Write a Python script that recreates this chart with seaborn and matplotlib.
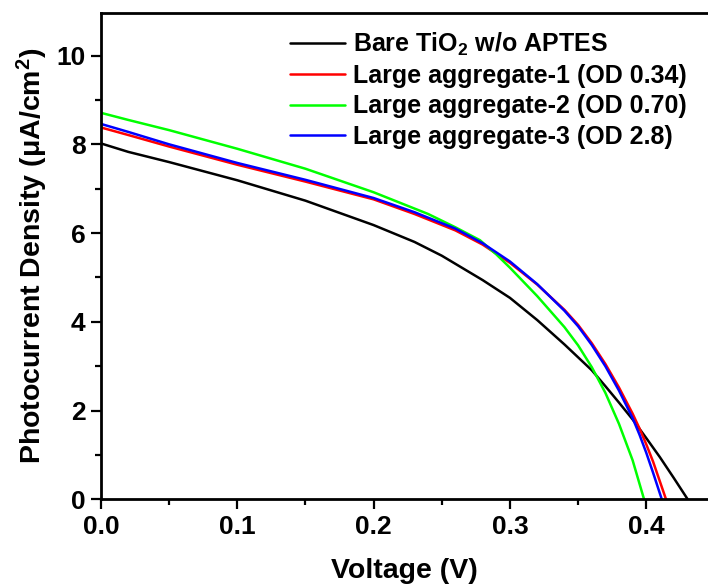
import numpy as np
import pandas as pd
import matplotlib
matplotlib.use("Agg")
import matplotlib.pyplot as plt
import seaborn as sns
from matplotlib.ticker import MultipleLocator, FormatStrFormatter

sns.set_style("ticks")
plt.rcParams['font.family'] = ['Liberation Sans', 'DejaVu Sans']
plt.rcParams['font.weight'] = 'bold'
plt.rcParams['mathtext.fontset'] = 'custom'
plt.rcParams['mathtext.rm'] = 'Liberation Sans:bold'
plt.rcParams['mathtext.it'] = 'Liberation Sans:bold'
plt.rcParams['mathtext.bf'] = 'Liberation Sans:bold'
for k in ['text.color', 'axes.labelcolor', 'xtick.color', 'ytick.color', 'axes.edgecolor']:
    plt.rcParams[k] = 'black'

# ---- data ----
labels = [r"Bare TiO$_2$ w/o APTES",
          "Large aggregate-1 (OD 0.34)",
          "Large aggregate-2 (OD 0.70)",
          "Large aggregate-3 (OD 2.8)"]
colors = ["#000000", "#ff0000", "#00ff00", "#0000ff"]

v_bare = [0.0, 0.02, 0.05, 0.10, 0.15, 0.20, 0.23, 0.25, 0.28, 0.30, 0.32, 0.34, 0.36, 0.37,
          0.38, 0.39, 0.40, 0.41, 0.42, 0.4304]
j_bare = [8.02, 7.83, 7.60, 7.19, 6.73, 6.18, 5.80, 5.49, 4.94, 4.54, 4.04, 3.49, 2.91, 2.55,
          2.18, 1.80, 1.38, 0.95, 0.49, 0.0]

v_agg1 = [0.0, 0.02, 0.05, 0.10, 0.15, 0.20, 0.23, 0.26, 0.28, 0.30, 0.32, 0.34, 0.35,
          0.36, 0.37, 0.38, 0.39, 0.395, 0.40, 0.405, 0.4145]
j_agg1 = [8.38, 8.21, 7.95, 7.54, 7.16, 6.76, 6.43, 6.06, 5.74, 5.33, 4.84, 4.27, 3.93,
          3.52, 3.05, 2.52, 1.93, 1.60, 1.24, 0.85, 0.0]

v_agg2 = [0.0, 0.02, 0.05, 0.10, 0.15, 0.20, 0.24, 0.26, 0.278, 0.29, 0.30, 0.32, 0.34,
          0.35, 0.36, 0.37, 0.38, 0.39, 0.3984]
j_agg2 = [8.71, 8.55, 8.32, 7.90, 7.45, 6.92, 6.43, 6.13, 5.84, 5.52, 5.22, 4.58, 3.88,
          3.47, 2.98, 2.40, 1.70, 0.88, 0.0]

v_agg3 = [0.0, 0.02, 0.05, 0.10, 0.15, 0.20, 0.23, 0.26, 0.28, 0.30, 0.32, 0.34, 0.35,
          0.36, 0.37, 0.38, 0.39, 0.395, 0.40, 0.405, 0.4114]
j_agg3 = [8.46, 8.28, 8.00, 7.58, 7.20, 6.79, 6.47, 6.10, 5.77, 5.36, 4.85, 4.25, 3.90,
          3.48, 3.00, 2.45, 1.83, 1.46, 1.05, 0.60, 0.0]

series = [(v_bare, j_bare), (v_agg1, j_agg1), (v_agg2, j_agg2), (v_agg3, j_agg3)]

fig = plt.figure(figsize=(7.08, 5.87), dpi=100)
ax = fig.add_axes([101/708, 1-499.3/587, 1-101/708, (499.3-13)/587])

for (v, j), lab, col in zip(series, labels, colors):
    df = pd.DataFrame({"V": v, "J": j})
    sns.lineplot(data=df, x="V", y="J", ax=ax, color=col, label=lab,
                 linewidth=1.8, estimator=None, sort=False)

ax.set_xlim(0, 0.4453)
ax.set_ylim(0, 10.96)
ax.xaxis.set_major_locator(MultipleLocator(0.1))
ax.xaxis.set_minor_locator(MultipleLocator(0.05))
ax.yaxis.set_major_locator(MultipleLocator(2))
ax.yaxis.set_minor_locator(MultipleLocator(1))
ax.xaxis.set_major_formatter(FormatStrFormatter('%.1f'))
ax.yaxis.set_major_formatter(FormatStrFormatter('%d'))

ax.tick_params(which='major', direction='out', length=7, width=1.6, labelsize=19,
               top=False, right=False, pad=4)
ax.tick_params(which='minor', direction='out', length=4, width=1.6, top=False, right=False)
for s in ['left', 'bottom', 'top']:
    ax.spines[s].set_linewidth(2.0)
    ax.spines[s].set_visible(True)
ax.spines['right'].set_visible(False)
for lbl in ax.get_xticklabels() + ax.get_yticklabels():
    lbl.set_fontweight('bold')

ax.set_xlabel("Voltage (V)", fontsize=20.5, fontweight='bold', labelpad=14)
ax.set_ylabel("Photocurrent Density (μA/cm$^2$)", fontsize=20.5, fontweight='bold', labelpad=5)

leg = ax.legend(loc='upper left', bbox_to_anchor=(0.295, 0.984), frameon=False,
                fontsize=18, handlelength=2.2, handletextpad=0.32, labelspacing=0.25,
                borderaxespad=0)
for t in leg.get_texts():
    t.set_fontweight('bold')

fig.savefig("out.png", dpi=100)
